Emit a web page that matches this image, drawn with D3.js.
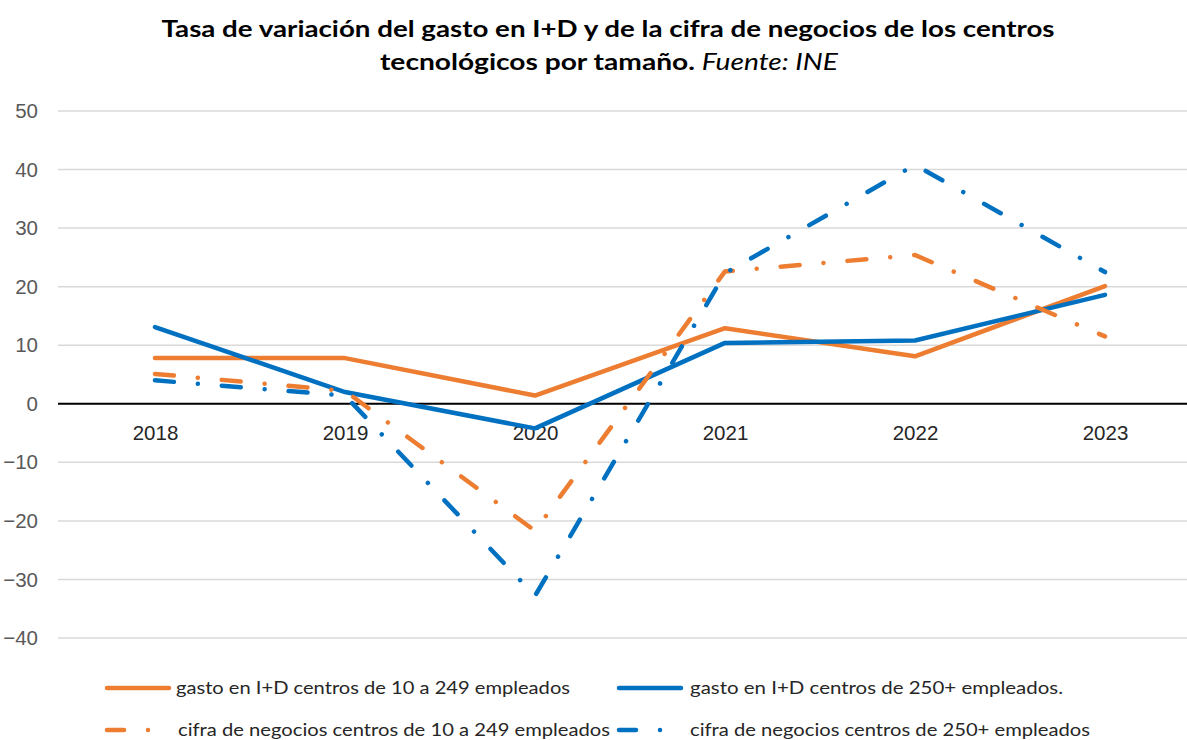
<!DOCTYPE html>
<html>
<head>
<meta charset="utf-8">
<script src="https://cdn.jsdelivr.net/npm/d3@7"></script>
<style>
  body { margin: 0; background: #fff; }
  svg { display: block; }
</style>
</head>
<body>
<svg id="chart"></svg>
<script>
// data
var years = ["2018", "2019", "2020", "2021", "2022", "2023"];
var gastoPyme = [7.8, 7.8, 1.4, 12.9, 8.1, 20.1];
var gastoGrande = [13.1, 2.0, -4.2, 10.4, 10.8, 18.6];
var cifraPyme = [5.1, 2.2, -21.7, 22.6, 25.4, 11.5];
var cifraGrande = [4.0, 1.4, -32.8, 22.3, 40.8, 22.5];
var yTicks = [50, 40, 30, 20, 10, 0, -10, -20, -30, -40];
var seriesNames = [
  "gasto en I+D centros de 10 a 249 empleados",
  "gasto en I+D centros de 250+ empleados.",
  "cifra de negocios centros de 10 a 249 empleados",
  "cifra de negocios centros de 250+ empleados"
];

var width = 1187, height = 740;
var orange = "#ed7d31", blue = "#0070c0";
var dashDot = "19,24,0.01,24";

var series = [
  { name: seriesNames[0], values: gastoPyme, color: orange, dash: null },
  { name: seriesNames[1], values: gastoGrande, color: blue, dash: null },
  { name: seriesNames[2], values: cifraPyme, color: orange, dash: dashDot },
  { name: seriesNames[3], values: cifraGrande, color: blue, dash: dashDot }
];

var svg = d3.select("#chart").attr("width", width).attr("height", height);

var x = d3.scalePoint().domain(years).range([155, 1105]);
var y = d3.scaleLinear().domain([-40, 50]).range([638, 111]);

// title (the reference text is set wide, so stretch to its width)
svg.append("text")
  .attr("x", 608).attr("y", 37)
  .attr("text-anchor", "middle")
  .attr("textLength", 893)
  .attr("lengthAdjust", "spacingAndGlyphs")
  .style("font-family", "Lato, sans-serif")
  .style("font-size", "23px")
  .style("font-weight", "bold")
  .attr("fill", "#000")
  .text("Tasa de variación del gasto en I+D y de la cifra de negocios de los centros");
var t2 = svg.append("text")
  .attr("x", 609).attr("y", 70)
  .attr("text-anchor", "middle")
  .attr("textLength", 458)
  .attr("lengthAdjust", "spacingAndGlyphs")
  .style("font-family", "Lato, sans-serif")
  .style("font-size", "23px")
  .attr("fill", "#000");
t2.append("tspan").style("font-weight", "bold").text("tecnológicos por tamaño. ");
t2.append("tspan").style("font-style", "italic").text("Fuente: INE");

// gridlines
svg.append("g")
  .selectAll("line")
  .data(yTicks.filter(function (d) { return d !== 0; }))
  .enter().append("line")
  .attr("x1", 58).attr("x2", width)
  .attr("y1", function (d) { return y(d); })
  .attr("y2", function (d) { return y(d); })
  .attr("stroke", "#d9d9d9")
  .attr("stroke-width", 1.5);

// y axis labels
var yAxis = svg.append("g")
  .attr("transform", "translate(38,0)")
  .call(d3.axisLeft(y).tickValues(yTicks).tickSize(0).tickPadding(0));
yAxis.select(".domain").remove();
yAxis.selectAll("text")
  .style("font-family", "'Liberation Sans', Arial, sans-serif")
  .style("font-size", "20.5px")
  .attr("fill", "#595959");

// zero line
svg.append("line")
  .attr("x1", 58).attr("x2", width)
  .attr("y1", y(0)).attr("y2", y(0))
  .attr("stroke", "#000").attr("stroke-width", 2);

// x axis labels along zero
var xAxis = svg.append("g")
  .attr("transform", "translate(0," + (y(0) + 22) + ")")
  .call(d3.axisBottom(x).tickSize(0).tickPadding(0));
xAxis.select(".domain").remove();
xAxis.selectAll("text")
  .style("font-family", "'Liberation Sans', Arial, sans-serif")
  .style("font-size", "20.5px")
  .attr("fill", "#262626");

// lines
var line = d3.line()
  .x(function (d, i) { return x(years[i]); })
  .y(function (d) { return y(d); });

svg.append("g")
  .selectAll("path")
  .data(series)
  .enter().append("path")
  .attr("d", function (d) { return line(d.values); })
  .attr("fill", "none")
  .attr("stroke", function (d) { return d.color; })
  .attr("stroke-width", 4.5)
  .attr("stroke-linecap", "round")
  .attr("stroke-linejoin", "round")
  .attr("stroke-dasharray", function (d) { return d.dash; });

// legend
var legendPos = [
  { x: 107, y: 688, len: 62, tx: 176, tw: 394 },
  { x: 619, y: 688, len: 62, tx: 690, tw: 373 },
  { x: 107, y: 730, len: 43, tx: 178, tw: 432 },
  { x: 619, y: 730, len: 43, tx: 690, tw: 400 }
];
var leg = svg.append("g").selectAll("g")
  .data(series)
  .enter().append("g");
leg.append("line")
  .attr("x1", function (d, i) { return legendPos[i].x; })
  .attr("x2", function (d, i) { return legendPos[i].x + legendPos[i].len; })
  .attr("y1", function (d, i) { return legendPos[i].y; })
  .attr("y2", function (d, i) { return legendPos[i].y; })
  .attr("stroke", function (d) { return d.color; })
  .attr("stroke-width", 4.5)
  .attr("stroke-linecap", "round")
  .attr("stroke-dasharray", function (d) { return d.dash ? "17,24,0.01,60" : null; });
leg.append("text")
  .attr("x", function (d, i) { return legendPos[i].tx; })
  .attr("y", function (d, i) { return legendPos[i].y + 6; })
  .attr("textLength", function (d, i) { return legendPos[i].tw; })
  .attr("lengthAdjust", "spacingAndGlyphs")
  .style("font-family", "Lato, sans-serif")
  .style("font-size", "16.5px")
  .attr("fill", "#262626")
  .text(function (d) { return d.name; });
</script>
</body>
</html>
